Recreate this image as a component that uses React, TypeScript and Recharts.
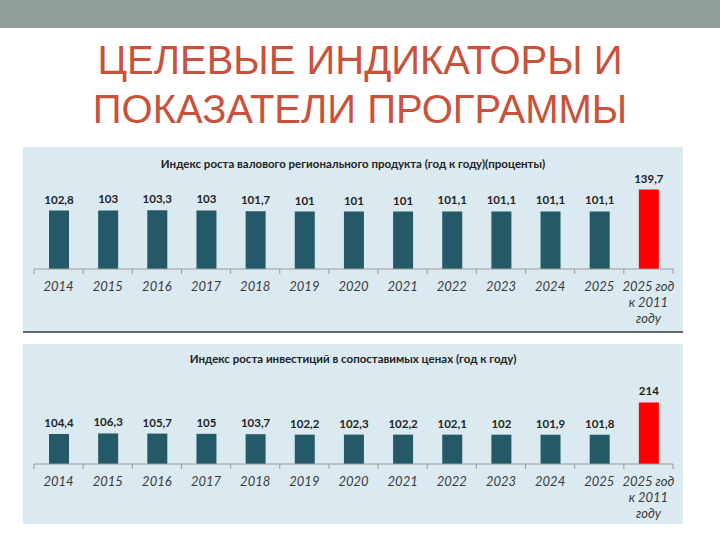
import React from "react";
import { BarChart, Bar, XAxis, YAxis, Cell, LabelList } from "recharts";

const categories = ["2014", "2015", "2016", "2017", "2018", "2019", "2020", "2021", "2022", "2023", "2024", "2025", "2025 год|к 2011|году"];
const grpValues = [102.8, 103, 103.3, 103, 101.7, 101, 101, 101, 101.1, 101.1, 101.1, 101.1, 139.7];
const grpLabels = ["102,8", "103", "103,3", "103", "101,7", "101", "101", "101", "101,1", "101,1", "101,1", "101,1", "139,7"];
const invValues = [104.4, 106.3, 105.7, 105, 103.7, 102.2, 102.3, 102.2, 102.1, 102, 101.9, 101.8, 214];
const invLabels = ["104,4", "106,3", "105,7", "105", "103,7", "102,2", "102,3", "102,2", "102,1", "102", "101,9", "101,8", "214"];

const pageTitle = ["ЦЕЛЕВЫЕ ИНДИКАТОРЫ И", "ПОКАЗАТЕЛИ ПРОГРАММЫ"];
const chart1Title = "Индекс роста валового регионального продукта (год к году)(проценты)";
const chart2Title = "Индекс роста инвестиций в сопоставимых ценах (год к году)";

const BAR = "#245a67";
const RED = "#ff0000";
const PANEL = "#dbeaf1";
const FONT = "Lato, 'Open Sans', 'Liberation Sans', sans-serif";
const CHART_W = 660;
const M_LEFT = 11;
const M_RIGHT = 10;
const BAND = (CHART_W - M_LEFT - M_RIGHT) / categories.length;

const build = (vals: number[], labels: string[]) =>
  categories.map((c, i) => ({ name: c, value: vals[i], label: labels[i] }));

const Tick = (props: any) => {
  const { x, y, payload, index } = props;
  const lines = String(payload.value).split("|");
  const last = index === categories.length - 1;
  return (
    <g transform={`translate(${x},${y})`}>
      <line x1={-BAND / 2} x2={-BAND / 2} y1={-8} y2={-3} stroke="#9a9a9a" strokeWidth={1} />
      {last && <line x1={BAND / 2} x2={BAND / 2} y1={-8} y2={-3} stroke="#9a9a9a" strokeWidth={1} />}
      {lines.map((l, i) => (
        <text key={i} x={0} y={14 + i * 16} textAnchor="middle" fontStyle="italic" fontSize={13} fill="#3a3a3a" fontFamily={FONT}>
          {l}
        </text>
      ))}
    </g>
  );
};

type PanelProps = {
  top: number;
  height: number;
  title: string;
  titleY: number;
  vals: number[];
  labels: string[];
  domainMax: number;
  plotTop: number;
  baseline: number;
  shadow: boolean;
};

const Panel = ({ top, height, title, titleY, vals, labels, domainMax, plotTop, baseline, shadow }: PanelProps) => {
  const data = build(vals, labels);
  return (
    <div style={{ position: "absolute", left: 23, top, width: CHART_W, height, background: PANEL, boxShadow: shadow ? "0 2px 0 #5d6a70" : "none" }}>
      <div style={{ position: "absolute", left: 0, width: CHART_W, top: titleY, textAlign: "center", fontFamily: FONT, fontWeight: 700, fontSize: 11.5, color: "#222" }}>
        {title}
      </div>
      <div style={{ position: "absolute", left: 0, top: 0 }}>
        <BarChart width={CHART_W} height={height} data={data} margin={{ top: plotTop, right: M_RIGHT, left: M_LEFT, bottom: 0 }} barCategoryGap={0}>
          <YAxis hide domain={[0, domainMax]} />
          <XAxis
            dataKey="name"
            interval={0}
            height={height - baseline}
            axisLine={{ stroke: "#9a9a9a" }}
            tickLine={false}
            tick={<Tick />}
          />
          <Bar dataKey="value" barSize={20} isAnimationActive={false}>
            {data.map((d, i) => (
              <Cell key={i} fill={i === data.length - 1 ? RED : BAR} />
            ))}
            <LabelList dataKey="label" position="top" offset={7} style={{ fontFamily: FONT, fontWeight: 700, fontSize: 11.5, fill: "#222" }} />
          </Bar>
        </BarChart>
      </div>
    </div>
  );
};

export default function App() {
  return (
    <div style={{ position: "absolute", left: 0, top: 0, width: 720, height: 540, background: "#fff", overflow: "hidden" }}>
      <div style={{ position: "absolute", left: 0, top: 0, width: 720, height: 28, background: "#8f9e96" }} />
      <div style={{ position: "absolute", left: 0, top: 36, width: 720, textAlign: "center", fontFamily: "'Liberation Sans Narrow', 'Arial Narrow', 'Liberation Sans', sans-serif", fontSize: 40, lineHeight: "49px", color: "#c8523b" }}>
        {pageTitle.map((t, i) => (
          <div key={i}>{t}</div>
        ))}
      </div>
      <Panel top={147} height={184} title={chart1Title} titleY={10} vals={grpValues} labels={grpLabels} domainMax={160} plotTop={31} baseline={122} shadow={true} />
      <Panel top={344} height={180} title={chart2Title} titleY={8} vals={invValues} labels={invLabels} domainMax={240} plotTop={51} baseline={120} shadow={false} />
    </div>
  );
}
